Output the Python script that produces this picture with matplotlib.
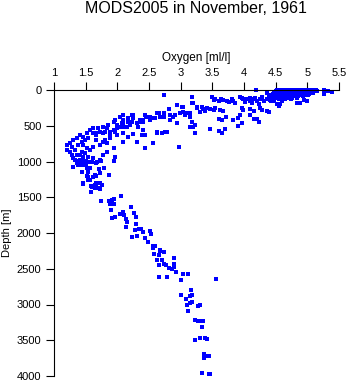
import numpy as np
import matplotlib.pyplot as plt

plt.rcParams['font.family'] = ['Liberation Sans', 'DejaVu Sans']

# (oxygen [ml/l], depth [m]) pairs, grouped by layer
surface = [
    (4.52, 3), (4.58, 3), (4.63, 3), (4.68, 3), (4.72, 3), (4.77, 3), (4.81, 3), (4.86, 3),
    (4.90, 3), (4.95, 3), (5.00, 3), (5.04, 3), (5.08, 3), (5.13, 3),
    (4.50, 18), (4.55, 18), (4.61, 18), (4.66, 18), (4.70, 18), (4.75, 18), (4.79, 18), (4.84, 18),
    (4.88, 18), (4.93, 18), (4.97, 18), (5.02, 18), (5.06, 18), (5.11, 18), (5.15, 18),
    (4.48, 35), (4.53, 35), (4.57, 35), (4.62, 35), (4.67, 35), (4.72, 35), (4.78, 35), (4.83, 35),
    (4.89, 35), (4.94, 35), (4.99, 35), (5.04, 35), (5.09, 35),
    (4.46, 52), (4.51, 52), (4.56, 52), (4.61, 52), (4.65, 52), (4.70, 52), (4.76, 52), (4.81, 52),
    (4.87, 52), (4.92, 52), (4.98, 52), (5.03, 52),
    (4.47, 70), (4.52, 70), (4.58, 70), (4.63, 70), (4.69, 70), (4.74, 70), (4.80, 70), (4.85, 70),
    (4.91, 70), (4.96, 70), (5.01, 70),
    (4.45, 88), (4.50, 88), (4.55, 88), (4.61, 88), (4.67, 88), (4.73, 88), (4.79, 88), (4.86, 88),
    (4.93, 88),
    (4.47, 108), (4.53, 108), (4.60, 108), (4.68, 108), (4.75, 108), (4.83, 108),
    (4.46, 128), (4.56, 128), (4.64, 128), (4.74, 128),
    (5.27, 0), (5.33, 10), (5.26, 60), (5.39, 28), (5.12, 10), (4.19, 0), (4.88, 186),
    (4.52, 200), (4.57, 196), (4.60, 160), (5.00, 150), (4.95, 140), (4.42, 150), (4.40, 70),
    (4.36, 40), (4.48, 154), (4.55, 224), (4.84, 182),
]

upper = [
    (3.49, 93), (3.52, 140), (3.54, 121), (3.60, 154), (3.63, 121), (3.67, 140), (3.73, 154),
    (3.77, 168), (3.81, 130), (3.83, 154), (3.86, 186), (3.93, 93), (3.97, 107), (3.99, 130),
    (4.02, 168), (4.04, 121), (4.09, 107), (4.10, 154), (4.12, 177), (4.15, 130), (4.18, 107),
    (4.20, 154), (4.23, 200), (4.25, 130), (4.28, 93), (4.31, 154), (4.36, 121), (4.39, 84),
    (4.41, 140), (3.33, 233), (3.36, 270), (3.39, 293), (3.41, 247), (3.46, 261), (3.52, 279),
    (3.54, 247), (3.62, 279), (3.67, 293), (3.97, 247), (3.99, 279), (4.10, 270), (4.15, 293),
    (4.25, 247), (4.28, 279), (4.36, 293), (4.39, 307), (3.60, 410), (3.65, 419), (3.72, 373),
    (3.83, 419), (3.91, 387), (3.97, 456), (3.91, 503), (4.15, 410), (4.20, 401), (4.23, 447),
    (3.46, 540), (3.60, 573), (3.65, 596), (3.70, 549), (3.94, 354), (4.10, 354),
    (2.73, 70), (2.94, 210), (3.02, 233), (3.18, 93), (3.20, 186), (3.25, 256), (2.81, 270),
    (2.73, 326), (2.67, 373), (2.62, 326), (2.57, 396), (2.52, 419), (2.46, 373), (2.41, 442),
    (2.36, 419), (2.31, 456), (2.25, 396), (2.23, 442), (3.15, 373), (3.18, 442), (3.20, 512),
    (3.23, 605), (3.10, 326), (3.04, 303), (2.99, 326), (2.88, 373), (2.83, 419), (2.94, 466),
    (2.76, 582), (2.62, 596), (2.41, 629), (2.57, 745), (2.31, 722), (2.44, 815), (2.98, 792),
    (3.04, 233), (3.18, 186), (3.25, 233), (3.31, 303), (3.15, 326), (3.07, 349), (2.91, 349),
    (2.83, 349), (2.73, 373), (2.65, 326), (2.60, 396), (2.52, 373), (2.44, 349), (2.41, 419),
    (2.36, 442), (2.25, 349), (2.17, 396), (2.09, 419), (2.07, 466), (1.99, 489), (1.94, 442),
    (1.86, 489), (1.78, 512), (1.70, 535), (1.62, 535), (1.67, 605), (1.81, 582), (1.88, 605),
    (1.96, 582), (2.09, 512), (2.20, 489), (2.33, 512), (2.41, 559), (2.39, 629), (2.44, 629),
    (2.62, 582), (2.70, 605), (2.78, 582), (3.15, 512), (3.23, 489), (2.09, 722), (1.88, 652),
    (1.81, 699),
]

omz = [
    (2.15, 512), (2.09, 466), (2.04, 512), (1.99, 535), (1.94, 559), (1.88, 582), (1.83, 535),
    (1.78, 605), (1.73, 582), (1.67, 629), (1.62, 605), (1.57, 559), (1.52, 605), (1.46, 652),
    (1.41, 629), (1.36, 675), (1.30, 699), (1.25, 745), (1.20, 768), (1.96, 419), (2.04, 373),
    (2.09, 349), (2.17, 442), (2.23, 349), (1.99, 629), (2.09, 605), (2.17, 652), (2.25, 619),
    (1.88, 675), (1.78, 722), (1.73, 768), (1.83, 745), (1.67, 699), (1.62, 792), (1.57, 838),
    (1.52, 815), (1.46, 768), (1.94, 815), (1.96, 931), (1.83, 862), (1.78, 908), (1.73, 978),
    (1.67, 1024), (1.62, 954), (1.60, 1002), (1.54, 931), (1.49, 885), (1.44, 862), (1.41, 978),
    (1.38, 1048), (1.33, 978), (1.30, 1071), (1.28, 792), (1.33, 838), (1.36, 908), (1.28, 908),
    (1.30, 954), (1.41, 908), (1.46, 931), (1.38, 768), (1.44, 722), (1.49, 699), (1.54, 675),
    (1.20, 838), (1.25, 862), (1.44, 1002), (1.49, 1024), (1.36, 1024), (1.52, 1094),
    (1.44, 1141), (1.54, 1211), (1.65, 1188), (1.46, 1303), (1.60, 1351), (1.67, 1351),
    (1.73, 1303), (1.57, 1257),
    (1.38, 992), (1.42, 1002), (1.46, 992), (1.50, 996), (1.42, 1048), (1.47, 1048),
    (1.51, 1044), (1.57, 1002), (1.68, 1010), (1.74, 996), (1.94, 992), (1.57, 1094),
    (1.71, 1108), (1.72, 1155), (1.79, 1090), (1.53, 1150), (1.52, 1197), (1.54, 1146),
    (1.61, 1211), (1.67, 1201), (1.87, 1192), (1.54, 1261), (1.46, 1317), (1.59, 1341),
    (1.65, 1323), (1.67, 1295), (1.69, 1365), (1.73, 1379), (1.75, 1331), (1.64, 1373),
    (1.58, 1421),
]

deep = [
    (2.06, 1485), (1.74, 1555), (1.87, 1546), (1.91, 1532), (1.95, 1527), (1.95, 1588),
    (1.88, 1597), (2.21, 1639), (1.90, 1681), (2.09, 1700), (2.05, 1737), (2.10, 1746),
    (2.27, 1722), (2.30, 1778), (2.14, 1806), (1.91, 1792), (2.15, 1840), (1.96, 1770),
    (2.14, 1914), (2.30, 1876), (2.34, 1938), (2.37, 1938),
    (2.28, 1965), (2.41, 1993), (2.23, 2049), (2.31, 2044), (2.53, 2016), (2.52, 1974),
    (2.44, 2072), (2.49, 2128), (2.56, 2175), (2.60, 2184), (2.56, 2211), (2.68, 2231),
    (2.73, 2267), (2.67, 2249), (2.58, 2287), (2.66, 2309), (2.90, 2351), (2.63, 2379),
    (2.70, 2379), (2.66, 2449), (2.74, 2435), (2.77, 2449), (2.90, 2435), (2.89, 2469),
    (2.81, 2491), (2.87, 2505), (2.93, 2547), (3.04, 2575), (3.11, 2575), (2.66, 2617),
    (2.79, 2617), (3.01, 2659), (3.56, 2640), (3.17, 2794), (3.00, 2864), (3.09, 2924),
    (3.15, 2882), (3.18, 2868), (3.10, 3004), (3.15, 2985), (3.18, 2966), (3.28, 3017),
    (3.31, 3008), (3.12, 3087), (3.23, 3217), (3.27, 3227), (3.33, 3237), (3.36, 3231),
    (3.34, 3315), (3.22, 3497), (3.31, 3474), (3.38, 3474), (3.42, 3478), (3.37, 3692),
    (3.42, 3716), (3.44, 3716), (3.37, 3748), (3.33, 3963), (3.45, 3967), (3.47, 3967),
]

x_ticks = [1, 1.5, 2, 2.5, 3, 3.5, 4, 4.5, 5, 5.5]
x_labels = ['1', '1.5', '2', '2.5', '3', '3.5', '4', '4.5', '5', '5.5']
y_ticks = [0, 500, 1000, 1500, 2000, 2500, 3000, 3500, 4000]

fig = plt.figure(figsize=(3.5, 3.84), dpi=100)
ax = fig.add_axes([54 / 350, 8 / 384, 285 / 350, 286 / 384])

for layer in (surface, upper, omz, deep):
    pts = np.array(layer)
    ax.plot(pts[:, 0], pts[:, 1], 's', color='#0000ff', ms=2.3, mew=0, clip_on=False)

ax.set_xlim(1, 5.5)
ax.set_ylim(4000, 0)
ax.xaxis.tick_top()
ax.xaxis.set_label_position('top')
ax.set_xticks(x_ticks)
ax.set_xticklabels(x_labels)
ax.set_yticks(y_ticks)
ax.spines['right'].set_visible(False)
ax.spines['bottom'].set_visible(False)
ax.spines['top'].set_linewidth(0.8)
ax.spines['left'].set_linewidth(0.8)
ax.tick_params(direction='out', length=6, width=0.8, labelsize=8, pad=3)

ax.set_xlabel('Oxygen [ml/l]', fontsize=8.5, labelpad=5)
ax.set_ylabel('Depth [m]', fontsize=8)
ax.yaxis.set_label_coords(-0.147, 0.5)

fig.text(0.56, 1 - 13 / 384, 'MODS2005 in November, 1961', ha='center', va='baseline',
         fontsize=11.5)

fig.savefig('out.png', dpi=100)
